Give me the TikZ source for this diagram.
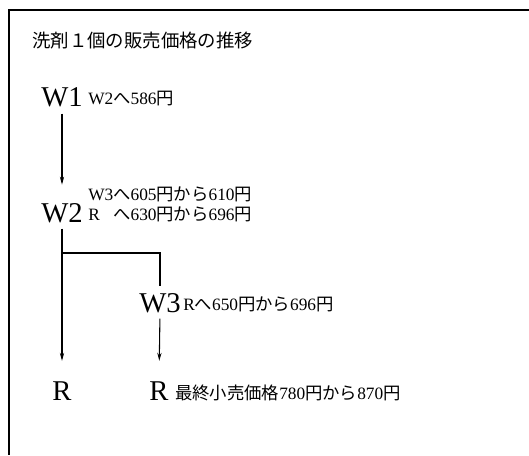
\documentclass[tikz,border=0pt]{standalone}
\usepackage{fontspec}
\setmainfont{Liberation Serif}
\newfontfamily\cjk{Noto Sans CJK JP}
\usetikzlibrary{arrows.meta}
\newcommand{\J}[1]{{\cjk #1}}
\begin{document}
\begin{tikzpicture}[x=0.75pt,y=-0.75pt,
  big/.style={font=\fontsize{21.5}{21.5}\selectfont, inner sep=0pt, anchor=base},
  lbl/.style={font=\fontsize{13}{14}\selectfont, inner sep=0pt, anchor=base west},
  arr/.style={draw, line width=0.8pt, -{Stealth[length=6pt,width=3.2pt]}},
  ln/.style={draw, line width=0.8pt}]
\useasboundingbox (0,0) rectangle (529,455);
\draw[line width=1.1pt] (529,10) -- (9,10) -- (9,455);
\node[inner sep=0pt, anchor=base west, font=\cjk\fontsize{13.8}{16}\selectfont] (title) at (32,47) {洗剤１個の販売価格の推移};
\node[big] (w1) at (62,106) {W1};
\node[lbl] (l1) at (88,104) {W2\J{へ}586\J{円}};
\node[big] (w2) at (62,222) {W2};
\node[lbl] (l2a) at (88,200) {W3\J{へ}605\J{円から}610\J{円}};
\node[lbl] (l2b) at (88,220) {\rlap{R}\hphantom{W3}\J{へ}630\J{円から}696\J{円}};
\node[big] (w3) at (160,312) {W3};
\node[lbl] (l3) at (183,310) {R\J{へ}650\J{円から}696\J{円}};
\node[big] (r1) at (62,400) {R};
\node[big] (r2) at (159,400) {R};
\node[lbl] (l4) at (175,399) {\J{最終小売価格}780\J{円から}870\J{円}};
\coordinate (br) at (62,253);
\draw[arr, shorten <=5.2pt, shorten >=13.6pt] (w1.south) -- (w2.north);
\draw[arr, shorten <=4.5pt, shorten >=15.1pt] (w2.south) -- (r1.north);
\draw[ln, shorten >=5pt] (br) -| (w3.north);
\draw[arr, shorten <=4.5pt, shorten >=15.1pt] (w3.south) -- (r2.north);
\end{tikzpicture}
\end{document}
